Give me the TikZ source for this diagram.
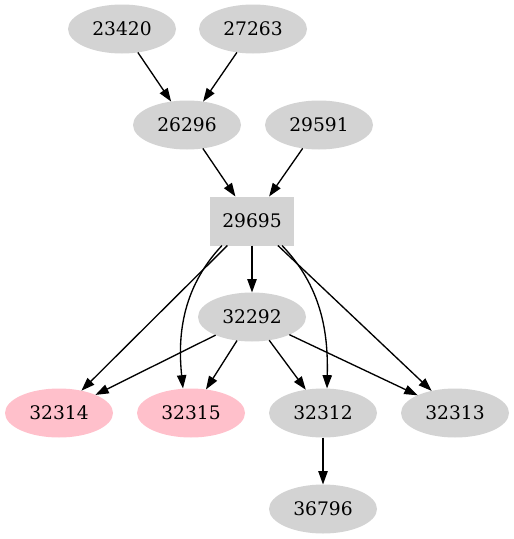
\documentclass[tikz,border=0pt]{standalone}
\usepackage{fontspec}
\setmainfont{DejaVu Serif}
\usepackage[HTML]{xcolor}
\usepackage{tikz}
\usetikzlibrary{positioning, arrows, arrows.meta, shapes.geometric}

\definecolor{nodegray}{HTML}{D3D3D3}
\definecolor{nodepink}{HTML}{FFC0CB}

\begin{document}
\begin{tikzpicture}[x=0.75pt, y=-0.75pt,
    font=\fontsize{14pt}{16pt}\selectfont,
    oval/.style={ellipse, fill=nodegray, minimum width=81pt, minimum height=36.75pt, inner sep=0pt, outer sep=0pt},
    pinkoval/.style={oval, fill=nodepink},
    box/.style={rectangle, fill=nodegray, minimum width=63pt, minimum height=36.75pt, inner sep=0pt, outer sep=0pt},
    edge/.style={-{Triangle[length=10pt, width=7pt]}, line width=1pt}]
    \useasboundingbox (0,0) rectangle (514,539);

    % Define nodes
    \node[oval] (N23420) at (122,29) {23420};
    \node[oval] (N27263) at (253,29) {27263};
    \node[oval] (N26296) at (187,125) {26296};
    \node[oval] (N29591) at (319,125) {29591};
    \node[box]  (N29695) at (252,221) {29695};
    \node[oval] (N32292) at (252,317) {32292};
    \node[pinkoval] (N32314) at (59,413) {32314};
    \node[pinkoval] (N32315) at (191,413) {32315};
    \node[oval] (N32312) at (323,413) {32312};
    \node[oval] (N32313) at (455,413) {32313};
    \node[oval] (N36796) at (323,509) {36796};

    % Draw arrows
    \draw[edge] (N23420) -- (N26296);
    \draw[edge] (N27263) -- (N26296);
    \draw[edge] (N26296) -- (N29695);
    \draw[edge] (N29591) -- (N29695);
    \draw[edge] (N29695) -- (N32292);
    \draw[edge] (N29695) -- (N32314);
    \draw[edge] (N29695.south west) ++(12,0) coordinate (s1)
        (s1) .. controls (180,290) and (178,340) .. (N32315.north -| 183,0);
    \draw[edge] (N29695.south east) ++(-12,0) coordinate (s2)
        (s2) .. controls (325,290) and (328,340) .. (N32312.north -| 327,0);
    \draw[edge] (N29695) -- (N32313);
    \draw[edge] (N32292) -- (N32314);
    \draw[edge] (N32292) -- (N32315);
    \draw[edge] (N32292) -- (N32312);
    \draw[edge] (N32292) -- (N32313);
    \draw[edge] (N32312) -- (N36796);
\end{tikzpicture}
\end{document}
